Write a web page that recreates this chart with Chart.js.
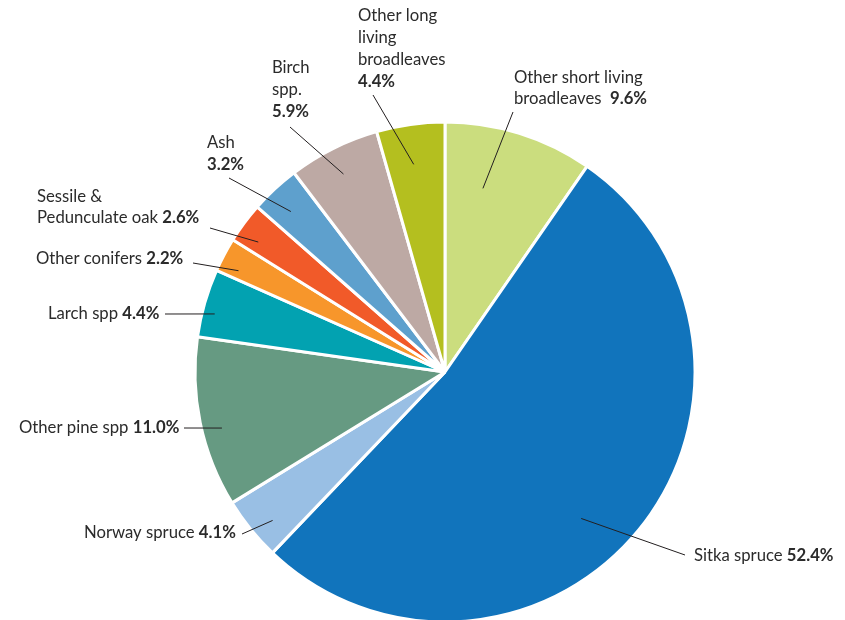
<!DOCTYPE html>
<html><head><meta charset="utf-8">
<script src="https://cdn.jsdelivr.net/npm/chart.js@4"></script>
<style>html,body{margin:0;padding:0;background:#fff;overflow:hidden}#wrap{width:845px;height:620px;position:relative}</style>
</head><body><div id="wrap"><canvas id="c" width="845" height="620"></canvas></div>
<script>
// ---- data ----
const categories = ['Other short living broadleaves','Sitka spruce','Norway spruce','Other pine spp','Larch spp','Other conifers','Sessile & Pedunculate oak','Ash','Birch spp.','Other long living broadleaves'];
const shares = [9.6, 52.4, 4.1, 11.0, 4.4, 2.2, 2.6, 3.2, 5.9, 4.4];
const labelLines = [
  ['Other short living', 'broadleaves '],
  ['Sitka spruce'],
  ['Norway spruce'],
  ['Other pine spp'],
  ['Larch spp'],
  ['Other conifers'],
  ['Sessile &', 'Pedunculate oak'],
  ['Ash'],
  ['Birch', 'spp.'],
  ['Other long', 'living', 'broadleaves']
];
const colors = ['#cbdd7e','#1174bc','#99bfe4','#669a82','#02a2b1','#f7962b','#f15a29','#5ea0cd','#bda9a4','#b4bf1f'];

// ---- label layout (annotation placement, not data) ----
// x,y: left / centre of first text line; lh: line height; nl: percent on its own line
// a: fraction along the slice angle, r: fraction of radius for the leader's inner end; ox,oy: leader outer end
const labelLayout = [
  {x:514, y:78,  lh:21, nl:false, a:0.337, r:0.75, ox:513, oy:112},
  {x:694, y:556, lh:22, nl:false, a:0.542, r:0.80, ox:685, oy:555},
  {x:84,  y:533, lh:22, nl:false, a:0.38,  r:0.91, ox:242, oy:534},
  {x:19,  y:428, lh:22, nl:false, a:0.44,  r:0.92, ox:184, oy:428},
  {x:48,  y:314, lh:22, nl:false, a:0.38,  r:0.95, ox:165, oy:314},
  {x:36,  y:259, lh:22, nl:false, a:0.27,  r:0.92, ox:193, oy:263},
  {x:37,  y:197, lh:21, nl:false, a:0.31,  r:0.91, ox:210, oy:228},
  {x:207, y:143, lh:22, nl:true,  a:0.42,  r:0.89, ox:229, oy:178},
  {x:272, y:68,  lh:22, nl:true,  a:0.47,  r:0.89, ox:290, oy:127},
  {x:358, y:16,  lh:22, nl:true,  a:0.46,  r:0.84, ox:373, oy:95}
];
const FONT_FAMILY = 'Lato, "Open Sans", sans-serif';
const FONT_SIZE = 16.7;
const TEXT_COLOR = '#2b2b2b';

const labelPlugin = {
  id: 'pieLabels',
  afterDatasetsDraw(chart) {
    const ctx = chart.ctx;
    const meta = chart.getDatasetMeta(0);
    ctx.save();
    meta.data.forEach((arc, i) => {
      const L = labelLayout[i];
      const p = arc.getProps(['x','y','startAngle','endAngle','outerRadius'], true);
      const ang = p.startAngle + L.a * (p.endAngle - p.startAngle);
      const ix = p.x + Math.cos(ang) * p.outerRadius * L.r;
      const iy = p.y + Math.sin(ang) * p.outerRadius * L.r;
      ctx.strokeStyle = '#231f20';
      ctx.lineWidth = 1;
      ctx.beginPath();
      ctx.moveTo(L.ox, L.oy);
      ctx.lineTo(ix, iy);
      ctx.stroke();

      const pct = shares[i].toFixed(1) + '%';
      const lines = labelLines[i];
      ctx.fillStyle = TEXT_COLOR;
      ctx.textBaseline = 'middle';
      ctx.textAlign = 'left';
      lines.forEach((t, k) => {
        const y = L.y + k * L.lh;
        ctx.font = `${FONT_SIZE}px ${FONT_FAMILY}`;
        ctx.fillText(t, L.x, y);
        if (!L.nl && k === lines.length - 1) {
          const w = ctx.measureText(t + ' ').width;
          ctx.font = `bold ${FONT_SIZE}px ${FONT_FAMILY}`;
          ctx.fillText(pct, L.x + w, y);
        }
      });
      if (L.nl) {
        ctx.font = `bold ${FONT_SIZE}px ${FONT_FAMILY}`;
        ctx.fillText(pct, L.x, L.y + lines.length * L.lh);
      }
    });
    ctx.restore();
  }
};

new Chart(document.getElementById('c'), {
  type: 'pie',
  data: {
    labels: categories,
    datasets: [{
      data: shares,
      backgroundColor: colors,
      borderColor: '#ffffff',
      borderWidth: 3,
      clip: false
    }]
  },
  options: {
    responsive: false,
    animation: false,
    radius: 250,
    layout: { padding: { left: 45, top: 124, right: 0, bottom: 0 } },
    plugins: { legend: { display: false }, tooltip: { enabled: false } }
  },
  plugins: [labelPlugin]
});
</script>
</body></html>
